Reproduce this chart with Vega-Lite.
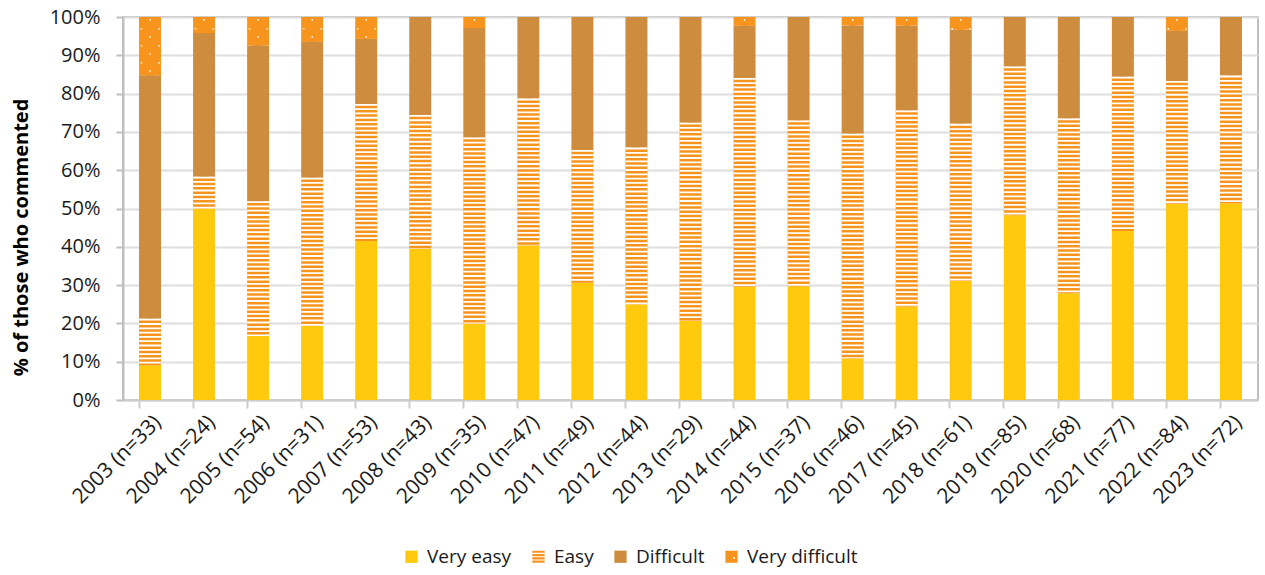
{
  "$schema": "https://vega.github.io/schema/vega-lite/v6.json",
  "width": 1135,
  "height": 383,
  "autosize": "none",
  "padding": {"left": 123, "top": 17, "right": 7, "bottom": 175},
  "background": "white",
  "config": {
    "font": "Open Sans",
    "view": {"stroke": "#bfbfbf", "strokeWidth": 2},
    "axis": {"labelFont": "Open Sans", "titleFont": "Open Sans"},
    "legend": {"labelFont": "Open Sans"}
  },
  "data": {
    "values": [
      {"year": "2003 (n=33)", "rating": "Very easy", "level": 1, "pct": 9.1},
      {"year": "2003 (n=33)", "rating": "Easy", "level": 2, "pct": 12.1},
      {"year": "2003 (n=33)", "rating": "Difficult", "level": 3, "pct": 63.6},
      {"year": "2003 (n=33)", "rating": "Very difficult", "level": 4, "pct": 15.2},
      {"year": "2004 (n=24)", "rating": "Very easy", "level": 1, "pct": 50.0},
      {"year": "2004 (n=24)", "rating": "Easy", "level": 2, "pct": 8.3},
      {"year": "2004 (n=24)", "rating": "Difficult", "level": 3, "pct": 37.5},
      {"year": "2004 (n=24)", "rating": "Very difficult", "level": 4, "pct": 4.2},
      {"year": "2005 (n=54)", "rating": "Very easy", "level": 1, "pct": 16.7},
      {"year": "2005 (n=54)", "rating": "Easy", "level": 2, "pct": 35.2},
      {"year": "2005 (n=54)", "rating": "Difficult", "level": 3, "pct": 40.7},
      {"year": "2005 (n=54)", "rating": "Very difficult", "level": 4, "pct": 7.4},
      {"year": "2006 (n=31)", "rating": "Very easy", "level": 1, "pct": 19.4},
      {"year": "2006 (n=31)", "rating": "Easy", "level": 2, "pct": 38.7},
      {"year": "2006 (n=31)", "rating": "Difficult", "level": 3, "pct": 35.5},
      {"year": "2006 (n=31)", "rating": "Very difficult", "level": 4, "pct": 6.5},
      {"year": "2007 (n=53)", "rating": "Very easy", "level": 1, "pct": 41.5},
      {"year": "2007 (n=53)", "rating": "Easy", "level": 2, "pct": 35.8},
      {"year": "2007 (n=53)", "rating": "Difficult", "level": 3, "pct": 17.0},
      {"year": "2007 (n=53)", "rating": "Very difficult", "level": 4, "pct": 5.7},
      {"year": "2008 (n=43)", "rating": "Very easy", "level": 1, "pct": 39.5},
      {"year": "2008 (n=43)", "rating": "Easy", "level": 2, "pct": 34.9},
      {"year": "2008 (n=43)", "rating": "Difficult", "level": 3, "pct": 25.6},
      {"year": "2008 (n=43)", "rating": "Very difficult", "level": 4, "pct": 0},
      {"year": "2009 (n=35)", "rating": "Very easy", "level": 1, "pct": 20.0},
      {"year": "2009 (n=35)", "rating": "Easy", "level": 2, "pct": 48.6},
      {"year": "2009 (n=35)", "rating": "Difficult", "level": 3, "pct": 28.6},
      {"year": "2009 (n=35)", "rating": "Very difficult", "level": 4, "pct": 2.9},
      {"year": "2010 (n=47)", "rating": "Very easy", "level": 1, "pct": 40.4},
      {"year": "2010 (n=47)", "rating": "Easy", "level": 2, "pct": 38.3},
      {"year": "2010 (n=47)", "rating": "Difficult", "level": 3, "pct": 21.3},
      {"year": "2010 (n=47)", "rating": "Very difficult", "level": 4, "pct": 0},
      {"year": "2011 (n=49)", "rating": "Very easy", "level": 1, "pct": 30.6},
      {"year": "2011 (n=49)", "rating": "Easy", "level": 2, "pct": 34.7},
      {"year": "2011 (n=49)", "rating": "Difficult", "level": 3, "pct": 34.7},
      {"year": "2011 (n=49)", "rating": "Very difficult", "level": 4, "pct": 0},
      {"year": "2012 (n=44)", "rating": "Very easy", "level": 1, "pct": 25.0},
      {"year": "2012 (n=44)", "rating": "Easy", "level": 2, "pct": 40.9},
      {"year": "2012 (n=44)", "rating": "Difficult", "level": 3, "pct": 34.1},
      {"year": "2012 (n=44)", "rating": "Very difficult", "level": 4, "pct": 0},
      {"year": "2013 (n=29)", "rating": "Very easy", "level": 1, "pct": 20.7},
      {"year": "2013 (n=29)", "rating": "Easy", "level": 2, "pct": 51.7},
      {"year": "2013 (n=29)", "rating": "Difficult", "level": 3, "pct": 27.6},
      {"year": "2013 (n=29)", "rating": "Very difficult", "level": 4, "pct": 0},
      {"year": "2014 (n=44)", "rating": "Very easy", "level": 1, "pct": 29.5},
      {"year": "2014 (n=44)", "rating": "Easy", "level": 2, "pct": 54.5},
      {"year": "2014 (n=44)", "rating": "Difficult", "level": 3, "pct": 13.6},
      {"year": "2014 (n=44)", "rating": "Very difficult", "level": 4, "pct": 2.3},
      {"year": "2015 (n=37)", "rating": "Very easy", "level": 1, "pct": 29.7},
      {"year": "2015 (n=37)", "rating": "Easy", "level": 2, "pct": 43.2},
      {"year": "2015 (n=37)", "rating": "Difficult", "level": 3, "pct": 27.0},
      {"year": "2015 (n=37)", "rating": "Very difficult", "level": 4, "pct": 0},
      {"year": "2016 (n=46)", "rating": "Very easy", "level": 1, "pct": 10.9},
      {"year": "2016 (n=46)", "rating": "Easy", "level": 2, "pct": 58.7},
      {"year": "2016 (n=46)", "rating": "Difficult", "level": 3, "pct": 28.3},
      {"year": "2016 (n=46)", "rating": "Very difficult", "level": 4, "pct": 2.2},
      {"year": "2017 (n=45)", "rating": "Very easy", "level": 1, "pct": 24.4},
      {"year": "2017 (n=45)", "rating": "Easy", "level": 2, "pct": 51.1},
      {"year": "2017 (n=45)", "rating": "Difficult", "level": 3, "pct": 22.2},
      {"year": "2017 (n=45)", "rating": "Very difficult", "level": 4, "pct": 2.2},
      {"year": "2018 (n=61)", "rating": "Very easy", "level": 1, "pct": 31.1},
      {"year": "2018 (n=61)", "rating": "Easy", "level": 2, "pct": 41.0},
      {"year": "2018 (n=61)", "rating": "Difficult", "level": 3, "pct": 24.6},
      {"year": "2018 (n=61)", "rating": "Very difficult", "level": 4, "pct": 3.3},
      {"year": "2019 (n=85)", "rating": "Very easy", "level": 1, "pct": 48.2},
      {"year": "2019 (n=85)", "rating": "Easy", "level": 2, "pct": 38.8},
      {"year": "2019 (n=85)", "rating": "Difficult", "level": 3, "pct": 12.9},
      {"year": "2019 (n=85)", "rating": "Very difficult", "level": 4, "pct": 0},
      {"year": "2020 (n=68)", "rating": "Very easy", "level": 1, "pct": 27.9},
      {"year": "2020 (n=68)", "rating": "Easy", "level": 2, "pct": 45.6},
      {"year": "2020 (n=68)", "rating": "Difficult", "level": 3, "pct": 26.5},
      {"year": "2020 (n=68)", "rating": "Very difficult", "level": 4, "pct": 0},
      {"year": "2021 (n=77)", "rating": "Very easy", "level": 1, "pct": 44.2},
      {"year": "2021 (n=77)", "rating": "Easy", "level": 2, "pct": 40.3},
      {"year": "2021 (n=77)", "rating": "Difficult", "level": 3, "pct": 15.6},
      {"year": "2021 (n=77)", "rating": "Very difficult", "level": 4, "pct": 0},
      {"year": "2022 (n=84)", "rating": "Very easy", "level": 1, "pct": 51.2},
      {"year": "2022 (n=84)", "rating": "Easy", "level": 2, "pct": 32.1},
      {"year": "2022 (n=84)", "rating": "Difficult", "level": 3, "pct": 13.1},
      {"year": "2022 (n=84)", "rating": "Very difficult", "level": 4, "pct": 3.6},
      {"year": "2023 (n=72)", "rating": "Very easy", "level": 1, "pct": 51.4},
      {"year": "2023 (n=72)", "rating": "Easy", "level": 2, "pct": 33.3},
      {"year": "2023 (n=72)", "rating": "Difficult", "level": 3, "pct": 15.3},
      {"year": "2023 (n=72)", "rating": "Very difficult", "level": 4, "pct": 0}
    ]
  },
  "transform": [
    {"stack": "pct", "groupby": ["year"], "sort": [{"field": "level", "order": "ascending"}], "offset": "normalize", "as": ["v0", "v1"]}
  ],
  "encoding": {
    "x": {
      "field": "year",
      "type": "nominal",
      "sort": null,
      "scale": {"paddingInner": 0.6, "paddingOuter": 0.3},
      "axis": {
        "title": null,
        "labelAngle": -45,
        "labelFontSize": 21,
        "labelColor": "#1a1a1a",
        "labelPadding": 3,
        "bandPosition": 0,
        "domainColor": "#cccccc",
        "domainWidth": 2,
        "tickColor": "#cccccc",
        "tickWidth": 2,
        "tickSize": 8,
        "grid": false
      }
    },
    "y": {
      "field": "v0",
      "type": "quantitative",
      "scale": {"domain": [0, 1], "nice": false},
      "axis": {
        "title": "% of those who commented",
        "titleFontSize": 20,
        "titleFontWeight": "bold",
        "titleColor": "#000000",
        "titlePadding": 18,
        "titleY": 220,
        "format": ".0%",
        "values": [0, 0.1, 0.2, 0.3, 0.4, 0.5, 0.6, 0.7, 0.8, 0.9, 1],
        "labelFontSize": 20,
        "labelColor": "#1a1a1a",
        "labelPadding": 16,
        "domainColor": "#bfbfbf",
        "domainWidth": 2,
        "tickColor": "#bfbfbf",
        "tickWidth": 2,
        "tickSize": 7,
        "gridColor": "#dedede",
        "gridWidth": 2
      }
    }
  },
  "layer": [
    {
      "transform": [{"filter": "datum.level > 1 && datum.pct > 0"}],
      "mark": {"type": "point", "filled": true, "opacity": 1, "size": 50},
      "encoding": {
        "color": {
          "field": "rating",
          "type": "nominal",
          "scale": {
            "domain": ["Very easy", "Easy", "Difficult", "Very difficult"],
            "range": ["#FFC90D", "#F7941D", "#CE8C3E", "#F7941D"]
          },
          "legend": {
            "title": null,
            "orient": "none",
            "legendX": 279,
            "legendY": 530,
            "direction": "horizontal",
            "labelFontSize": 19,
            "labelColor": "#1a1a1a",
            "symbolSize": 150,
            "symbolStrokeWidth": 0,
            "columnPadding": 17,
            "labelOffset": 6
          }
        },
        "shape": {
          "field": "rating",
          "type": "nominal",
          "scale": {
            "domain": ["Very easy", "Easy", "Difficult", "Very difficult"],
            "range": [
              "square",
              "M-1,-1H1V-0.64H-1Z M-1,-0.46H1V-0.1H-1Z M-1,0.08H1V0.44H-1Z M-1,0.62H1V1H-1Z",
              "square",
              "M-1,-1H1V1H-1Z M0.3,0.1V0.35H0.55V0.1Z"
            ]
          },
          "legend": {
            "title": null,
            "orient": "none",
            "legendX": 279,
            "legendY": 530,
            "direction": "horizontal",
            "labelFontSize": 19,
            "labelColor": "#1a1a1a",
            "symbolSize": 150,
            "symbolStrokeWidth": 0,
            "columnPadding": 17,
            "labelOffset": 6
          }
        }
      }
    },
    {
      "mark": {"type": "bar", "width": 22},
      "encoding": {
        "y2": {"field": "v1"},
        "color": {
          "field": "rating",
          "type": "nominal",
          "legend": null
        }
      }
    },
    {
      "transform": [{"filter": "datum.rating === 'Easy' && datum.pct > 0"}],
      "mark": {"type": "rule", "stroke": "#ffffff", "strokeWidth": 22, "strokeDash": [1.8, 2.5]},
      "encoding": {"y": {"field": "v1", "type": "quantitative"}, "y2": {"field": "v0"}}
    },
    {
      "transform": [{"filter": "datum.rating === 'Very difficult' && datum.pct > 0"}],
      "mark": {"type": "rule", "stroke": "#ffffff", "strokeWidth": 1.5, "strokeDash": [1.5, 15.5], "strokeDashOffset": 14.7},
      "encoding": {"y": {"field": "v1", "type": "quantitative"}, "y2": {"field": "v0"}}
    },
    {
      "transform": [{"filter": "datum.rating === 'Very difficult' && datum.pct > 0"}],
      "mark": {"type": "rule", "stroke": "#ffffff", "strokeWidth": 1.5, "strokeDash": [1.5, 15.5], "strokeDashOffset": 6, "xOffset": -8.5},
      "encoding": {"y": {"field": "v1", "type": "quantitative"}, "y2": {"field": "v0"}}
    },
    {
      "transform": [{"filter": "datum.rating === 'Very difficult' && datum.pct > 0"}],
      "mark": {"type": "rule", "stroke": "#ffffff", "strokeWidth": 1.5, "strokeDash": [1.5, 15.5], "strokeDashOffset": 6, "xOffset": 9},
      "encoding": {"y": {"field": "v1", "type": "quantitative"}, "y2": {"field": "v0"}}
    }
  ]
}
